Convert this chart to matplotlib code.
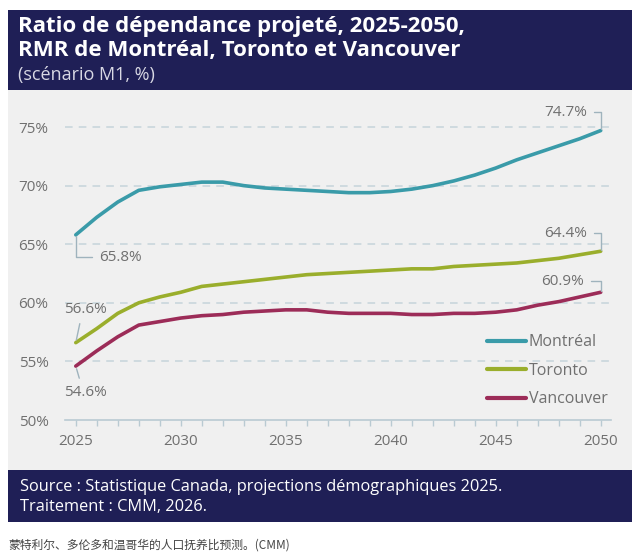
import matplotlib
matplotlib.use("Agg")
import matplotlib.pyplot as plt
import matplotlib.patches as patches

# data (ratio de dépendance, %)
years = list(range(2025, 2051))
montreal = [65.8, 67.3, 68.6, 69.6, 69.9, 70.1, 70.3, 70.3, 70.0, 69.8, 69.7, 69.6, 69.5,
            69.4, 69.4, 69.5, 69.7, 70.0, 70.4, 70.9, 71.5, 72.2, 72.8, 73.4, 74.0, 74.7]
toronto = [56.6, 57.8, 59.1, 60.0, 60.5, 60.9, 61.4, 61.6, 61.8, 62.0, 62.2, 62.4, 62.5,
           62.6, 62.7, 62.8, 62.9, 62.9, 63.1, 63.2, 63.3, 63.4, 63.6, 63.8, 64.1, 64.4]
vancouver = [54.6, 55.9, 57.1, 58.1, 58.4, 58.7, 58.9, 59.0, 59.2, 59.3, 59.4, 59.4, 59.2,
             59.1, 59.1, 59.1, 59.0, 59.0, 59.1, 59.1, 59.2, 59.4, 59.8, 60.1, 60.5, 60.9]
series_names = ['Montréal', 'Toronto', 'Vancouver']
colors = ['#3a9ba9', '#9aae2c', '#9c2c58']
yticks = [50, 55, 60, 65, 70, 75]
xticks = [2025, 2030, 2035, 2040, 2045, 2050]

navy = '#1f1f56'
panel = '#f0f0f0'
grey_txt = '#707070'
lead = '#9fb3bd'

fig = plt.figure(figsize=(6.4, 5.6), dpi=100)
fig.patch.set_facecolor('white')

# background boxes
for y0, h, fc in [(0.839, 0.143, navy), (0.161, 0.678, panel), (0.068, 0.093, navy)]:
    fig.patches.append(patches.Rectangle((0.0125, y0), 0.975, h, transform=fig.transFigure,
                                         facecolor=fc, edgecolor='none', zorder=-5))

fig.text(0.028, 0.952, 'Ratio de dépendance projeté, 2025-2050,', color='white',
         fontsize=16, fontweight='bold', family='Open Sans', va='center')
fig.text(0.028, 0.909, 'RMR de Montréal, Toronto et Vancouver', color='white',
         fontsize=16, fontweight='bold', family='Open Sans', va='center')
fig.text(0.028, 0.866, '(scénario M1, %)', color='#d8d8e4', fontsize=13,
         family='Open Sans', va='center')

fig.text(0.032, 0.130, 'Source : Statistique Canada, projections démographiques 2025.',
         color='white', fontsize=11.8, family='Open Sans', va='center')
fig.text(0.032, 0.094, 'Traitement : CMM, 2026.', color='white', fontsize=11.8,
         family='Open Sans', va='center')

fig.text(0.0125, 0.027, '蒙特利尔、多伦多和温哥华的人口抚养比预测。(CMM)', color='#444444',
         fontsize=8.5, family=['Noto Sans CJK SC', 'DejaVu Sans'], va='center')

ax = fig.add_axes([0.102, 0.25, 0.853, 0.565])
ax.set_facecolor('none')
ax.set_xlim(2024.5, 2050.5)
ax.set_ylim(50, 77)

for s, c, name in zip([montreal, toronto, vancouver], colors, series_names):
    ax.plot(years, s, color=c, lw=2.6, label=name, solid_capstyle='round', zorder=3)

ax.set_yticks(yticks)
ax.set_yticklabels([f'{v}%' for v in yticks])
ax.set_xticks(years, minor=True)
ax.set_xticks(xticks)
for v in yticks[1:]:
    ax.axhline(v, color='#c6d4db', lw=1.1, ls=(0, (5, 4)), zorder=1)

for sp in ['top', 'right', 'left']:
    ax.spines[sp].set_visible(False)
ax.spines['bottom'].set_color('#b9cad2')
ax.spines['bottom'].set_linewidth(1.2)
ax.tick_params(axis='y', length=0, pad=12, labelsize=11, labelcolor=grey_txt)
ax.tick_params(axis='x', which='both', length=4, color='#b9cad2', width=1,
               labelsize=11, labelcolor=grey_txt, pad=6)
for lbl in ax.get_xticklabels() + ax.get_yticklabels():
    lbl.set_family('Open Sans')

# end labels
def bracket(x, y, dx, dy, txt, ha, rel):
    ax.annotate(txt, xy=(x, y), xytext=(dx, dy), textcoords='offset points',
                ha=ha, va='center', fontsize=11, color=grey_txt, family='Open Sans',
                arrowprops=dict(arrowstyle='-', color=lead, lw=1,
                                connectionstyle='angle,angleA=0,angleB=90,rad=0',
                                relpos=rel, shrinkA=3, shrinkB=1))

def slant(x, y, dx, dy, txt, rel):
    ax.annotate(txt, xy=(x, y), xytext=(dx, dy), textcoords='offset points',
                ha='center', va='center', fontsize=11, color=grey_txt, family='Open Sans',
                arrowprops=dict(arrowstyle='-', color=lead, lw=1, relpos=rel,
                                shrinkA=3, shrinkB=2))

bracket(years[-1], montreal[-1], -10, 13, f'{montreal[-1]}%', 'right', (1, 0.5))
bracket(years[-1], toronto[-1], -10, 13, f'{toronto[-1]}%', 'right', (1, 0.5))
bracket(years[-1], vancouver[-1], -12, 8, f'{vancouver[-1]}%', 'right', (1, 0.5))
bracket(years[0], montreal[0], 17, -16, f'{montreal[0]}%', 'left', (0, 0.5))
slant(years[0], toronto[0], 7, 24, f'{toronto[0]}%', (0.4, 0))
slant(years[0], vancouver[0], 7, -19, f'{vancouver[0]}%', (0.4, 1))

leg = ax.legend(loc='lower right', bbox_to_anchor=(1.02, -0.005), frameon=False,
                handlelength=2.4, handletextpad=0.2, labelspacing=0.78,
                prop={'family': 'Open Sans', 'size': 11.5})
for t in leg.get_texts():
    t.set_color(grey_txt)
for h in leg.get_lines():
    h.set_linewidth(3)

fig.savefig('out.png', dpi=100, facecolor='white')
